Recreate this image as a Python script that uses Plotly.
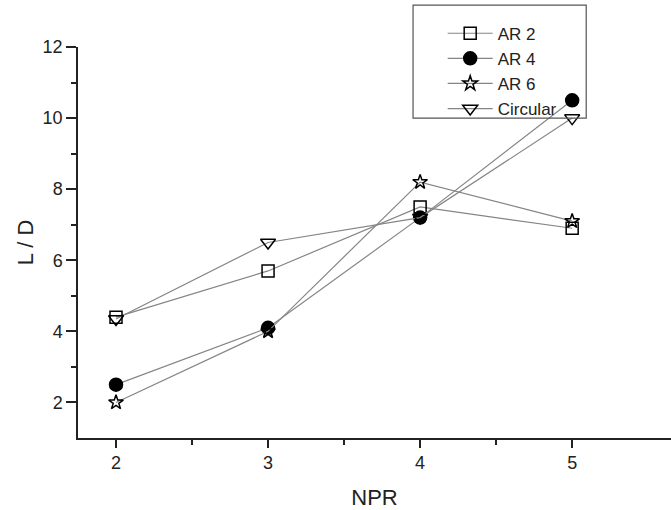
import plotly.graph_objects as go

npr = [2, 3, 4, 5]
ar2 = [4.4, 5.7, 7.5, 6.9]
ar4 = [2.5, 4.1, 7.2, 10.5]
ar6 = [2.0, 4.0, 8.2, 7.1]
circular = [4.35, 6.5, 7.2, 10.0]

series = [
    ("AR 2", ar2, "square-open", 12),
    ("AR 4", ar4, "circle", 13),
    ("AR 6", ar6, "star-open", 11),
    ("Circular", circular, "triangle-down-open", 13),
]

fig = go.Figure()
for name, vals, sym, sz in series:
    fig.add_trace(go.Scatter(
        x=npr, y=vals, name=name, mode="lines+markers",
        line=dict(color="#858585", width=1.2),
        marker=dict(symbol=sym, size=sz, color="black", line=dict(color="black", width=1.5)),
    ))

# legend frame
fig.add_shape(type="rect", xref="paper", yref="paper",
              x0=0.565, x1=0.857, y0=0.818, y1=1.107,
              line=dict(color="#555", width=1.2), fillcolor="rgba(0,0,0,0)")

fig.update_layout(
    width=671, height=510,
    margin=dict(l=78, r=0, t=47, b=72),
    paper_bgcolor="white", plot_bgcolor="white",
    font=dict(family="Liberation Sans, Arial, sans-serif", color="#222", size=18),
    showlegend=True,
    legend=dict(x=0.615, y=1.080, xanchor="left", yanchor="top",
                borderwidth=0, bgcolor="rgba(0,0,0,0)",
                font=dict(size=17), itemwidth=45, tracegroupgap=0),
)
fig.update_xaxes(
    range=[1.75, 5.65], tickvals=[2, 3, 4, 5], showline=True, linecolor="#222", linewidth=1.5,
    ticks="outside", ticklen=8, tickwidth=1.5, tickcolor="#222", showgrid=False, zeroline=False,
    tickfont=dict(size=18),
    minor=dict(tickvals=[2.5, 3.5, 4.5], ticks="outside", ticklen=5, tickwidth=1.5, tickcolor="#222"),
    title=dict(text="NPR", font=dict(size=22), standoff=19),
)
fig.update_yaxes(
    range=[1, 12], tickvals=[2, 4, 6, 8, 10, 12], showline=True, linecolor="#222", linewidth=1.5,
    ticks="outside", ticklen=10, tickwidth=1.5, tickcolor="#222", showgrid=False, zeroline=False,
    tickfont=dict(size=18),
    minor=dict(tickvals=[3, 5, 7, 9, 11], ticks="outside", ticklen=5, tickwidth=1.5, tickcolor="#222"),
    title=dict(text="L / D", font=dict(size=22), standoff=3),
)

fig.write_html("out.html")
